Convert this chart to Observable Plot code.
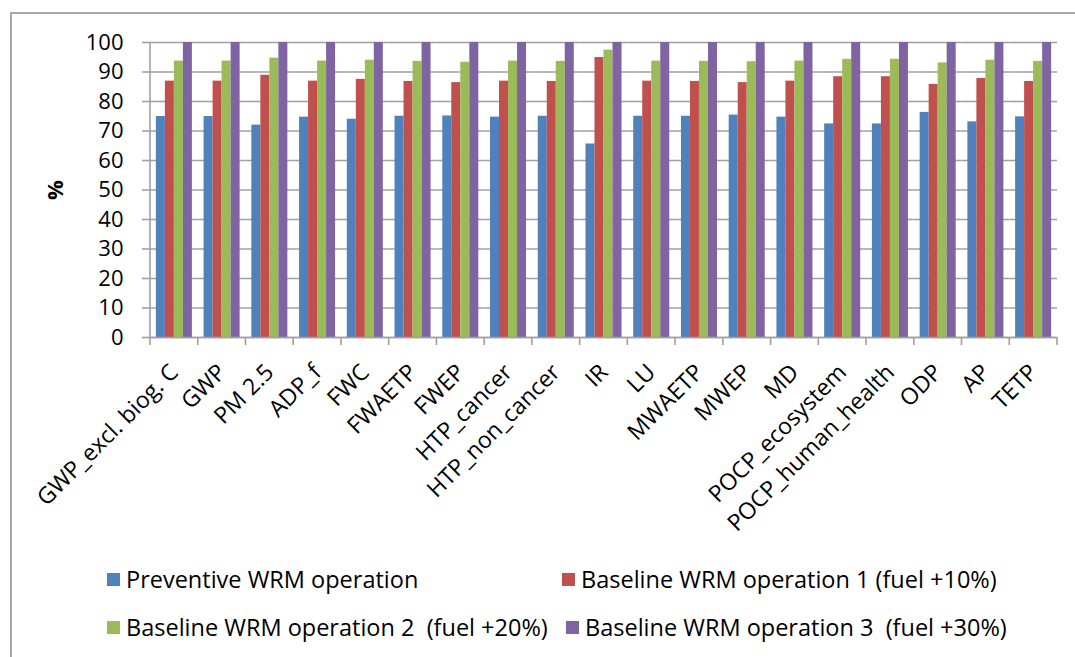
<!DOCTYPE html>
<html>
<head>
<meta charset="utf-8">
<script src="https://cdn.jsdelivr.net/npm/d3@7"></script>
<script src="https://cdn.jsdelivr.net/npm/@observablehq/plot@0.6"></script>
<style>
  body { margin: 0; background: #fff; font-family: "Open Sans", sans-serif; }
  #wrap { position: relative; width: 1075px; height: 657px; overflow: hidden; background: #fff; }
  #frame { position: absolute; left: 10px; top: 12px; right: -10px; bottom: -10px;
           border-top: 2px solid #a8a8a8; border-left: 2px solid #a8a8a8; }
  #chart { position: absolute; left: 0; top: 0; }
  .item { position: absolute; display: flex; align-items: center; font-size: 23.5px;
          color: #000; white-space: pre; line-height: 1; }
  .sw { width: 13px; height: 13px; margin-right: 6px; flex: none; }
</style>
</head>
<body>
<div id="wrap">
  <div id="frame"></div>
  <div id="chart"></div>
  <div id="legend"></div>
</div>
<script>
const categories = ["GWP_excl. biog. C","GWP","PM 2.5","ADP_f","FWC","FWAETP","FWEP","HTP_cancer","HTP_non_cancer","IR","LU","MWAETP","MWEP","MD","POCP_ecosystem","POCP_human_health","ODP","AP","TETP"];
const seriesNames = ["Preventive WRM operation","Baseline WRM operation 1 (fuel +10%)","Baseline WRM operation 2  (fuel +20%)","Baseline WRM operation 3  (fuel +30%)"];
const preventive = [74.9,74.9,72.0,74.7,74.0,75.0,75.1,74.7,75.0,65.6,75.0,75.0,75.4,74.7,72.4,72.4,76.3,73.1,74.8];
const baseline1  = [86.9,86.9,88.9,86.9,87.5,86.8,86.4,86.9,86.8,94.9,86.9,86.8,86.4,86.9,88.4,88.4,85.8,87.8,86.8];
const baseline2  = [93.7,93.7,94.7,93.7,94.0,93.6,93.3,93.7,93.6,97.4,93.7,93.6,93.5,93.7,94.3,94.3,93.1,94.0,93.6];
const baseline3  = [100,100,100,100,100,100,100,100,100,100,100,100,100,100,100,100,100,100,100];
const yTicks = [0,10,20,30,40,50,60,70,80,90,100];
const colors = ["#4F81BD","#C0504D","#9BBB59","#8064A2"];

const seriesValues = [preventive, baseline1, baseline2, baseline3];
const rows = categories.flatMap((c, i) => seriesNames.map((s, j) => ({category: c, series: s, value: seriesValues[j][i]})));

const gray = "#a0a0a0";
const chart = Plot.plot({
  width: 1075, height: 545,
  marginLeft: 150, marginRight: 18, marginTop: 42, marginBottom: 208,
  style: {fontFamily: '"Open Sans", sans-serif', color: "#000", background: "transparent", overflow: "visible"},
  fx: {domain: categories, padding: 0, round: false},
  x: {domain: seriesNames, paddingInner: 0, paddingOuter: 0.65, round: false, axis: null},
  y: {domain: [0, 100]},
  color: {domain: seriesNames, range: colors},
  marks: [
    Plot.gridY(yTicks, {stroke: gray, strokeOpacity: 1, strokeWidth: 1.6}),
    Plot.barY(rows, {fx: "category", x: "series", y: "value", fill: "series", inset: 0}),
    Plot.ruleY([0], {stroke: gray, strokeWidth: 1.6}),
    Plot.axisY(yTicks, {tickSize: 8, tickPadding: 19, fontSize: 22, stroke: gray, strokeWidth: 1.6,
                        label: "%", labelAnchor: "center", labelOffset: 103, labelArrow: "none"}),
    Plot.axisFx({anchor: "bottom", tickRotate: -45, tickSize: 0, tickPadding: 31, fontSize: 23, label: null})
  ]
});
document.getElementById("chart").appendChild(chart);

// Excel-style boundary ticks and left axis line, positioned from the library's scales
const fx = chart.scale("fx"), y = chart.scale("y");
const svg = d3.select(chart);
const bounds = categories.map(c => fx.apply(c)).concat([fx.apply(categories[categories.length - 1]) + fx.bandwidth]);
const g = svg.append("g").attr("stroke", gray).attr("stroke-width", 1.6);
g.selectAll("line.b").data(bounds).join("line")
  .attr("x1", d => d).attr("x2", d => d)
  .attr("y1", y.apply(0)).attr("y2", y.apply(0) + 8);
g.append("line").attr("x1", bounds[0]).attr("x2", bounds[0]).attr("y1", y.apply(0) + 1).attr("y2", y.apply(100));
svg.selectAll('[aria-label="y-axis label"]').attr("font-weight", "bold").attr("font-size", 22);

// legend
const legendPos = [[107, 580], [562, 580], [107, 628], [566, 628]];
const legend = document.getElementById("legend");
seriesNames.forEach((s, i) => {
  const it = document.createElement("div");
  it.className = "item";
  it.style.left = legendPos[i][0] + "px";
  it.style.top = (legendPos[i][1] - 12) + "px";
  it.innerHTML = `<span class="sw" style="background:${colors[i]}"></span><span></span>`;
  it.lastChild.textContent = s;
  legend.appendChild(it);
});
</script>
</body>
</html>
